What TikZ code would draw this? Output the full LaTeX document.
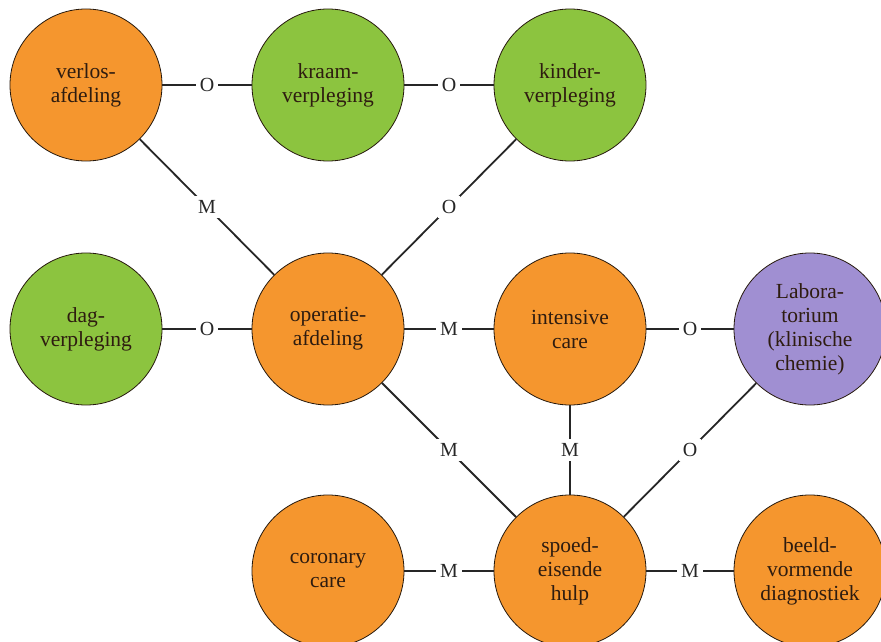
\documentclass[tikz,border=0pt]{standalone}
\usepackage{fontspec}
\setmainfont{Liberation Serif}
\newfontfamily\afdfont{Liberation Serif}
\usetikzlibrary{calc}

\definecolor{afdoranje}{HTML}{F5962E}
\definecolor{afdgroen}{HTML}{8CC43F}
\definecolor{afdpaars}{HTML}{A08FD2}
\definecolor{afdtekst}{HTML}{2E1C10}

\tikzset{
	afd/.style={circle,draw=black!80!brown,thick,minimum size=152pt,inner sep=0pt,align=center,
		font=\afdfont\fontsize{21.5}{24}\selectfont,text=afdtekst},
	rel/.style={fill=white,inner sep=4pt,font=\afdfont\fontsize{20}{22}\selectfont},
	lijn/.style={line width=1.8pt,black!85}
}

\begin{document}
\begin{tikzpicture}[x=1pt,y=-1pt]

\useasboundingbox[fill=white] (0,0) rectangle (881,642);

%top row
\node[afd,fill=afdoranje](verlos) at (86,85){verlos-\\afdeling};
\node[afd,fill=afdgroen](kraam) at (328,85){kraam-\\verpleging};
\node[afd,fill=afdgroen](kinder) at (570,85){kinder-\\verpleging};

%middle row
\node[afd,fill=afdgroen](dag) at (86,329){dag-\\verpleging};
\node[afd,fill=afdoranje](operatie) at (328,329){operatie-\\afdeling};
\node[afd,fill=afdoranje](intensive) at (570,329){intensive\\care};
\node[afd,fill=afdpaars](labo) at (810,329){Labora-\\torium\\(klinische\\chemie)};

%bottom row
\node[afd,fill=afdoranje](coronary) at (328,571){coronary\\care};
\node[afd,fill=afdoranje](spoed) at (570,571){spoed-\\eisende\\hulp};
\node[afd,fill=afdoranje](beeld) at (810,571){beeld-\\vormende\\diagnostiek};

%draw relations
\draw[lijn](verlos)--node[rel]{O}(kraam);
\draw[lijn](kraam)--node[rel]{O}(kinder);
\draw[lijn](verlos)--node[rel]{M}(operatie);
\draw[lijn](kinder)--node[rel]{O}(operatie);
\draw[lijn](dag)--node[rel]{O}(operatie);
\draw[lijn](operatie)--node[rel]{M}(intensive);
\draw[lijn](intensive)--node[rel]{O}(labo);
\draw[lijn](operatie)--node[rel]{M}(spoed);
\draw[lijn](intensive)--node[rel]{M}(spoed);
\draw[lijn](labo)--node[rel]{O}(spoed);
\draw[lijn](coronary)--node[rel]{M}(spoed);
\draw[lijn](spoed)--node[rel]{M}(beeld);
\end{tikzpicture}
\end{document}
